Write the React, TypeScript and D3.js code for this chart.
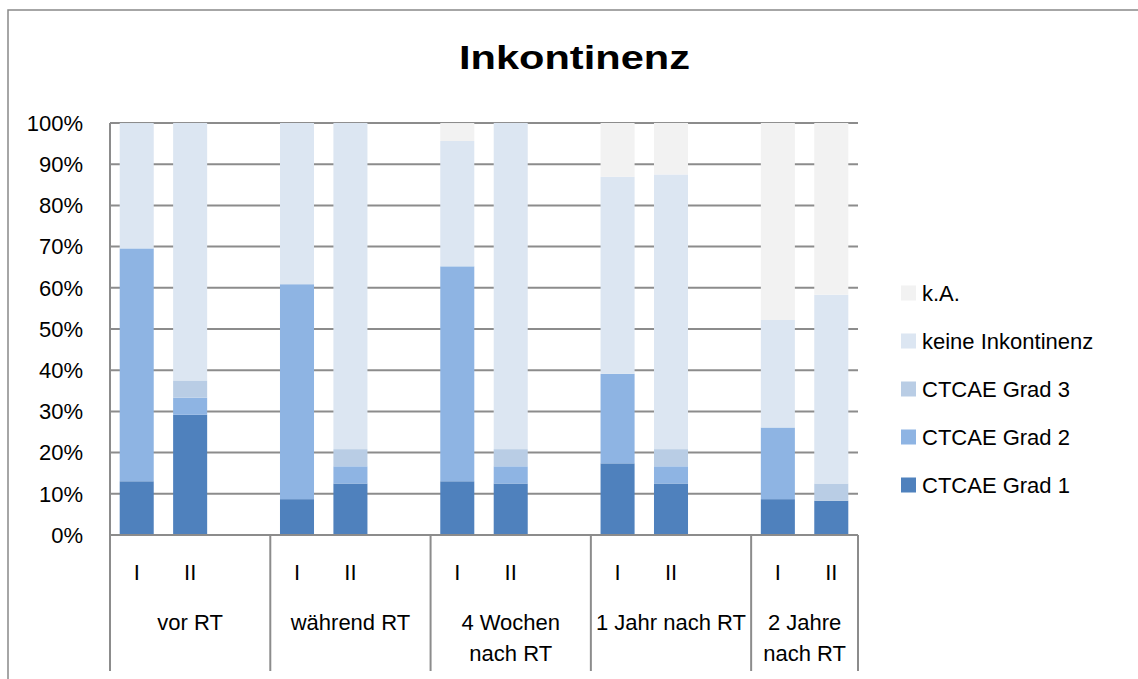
import React, { useRef, useEffect } from "react";
import * as d3 from "d3";

// categories (multi-level axis)
const groups = [["vor RT"], ["während RT"], ["4 Wochen", "nach RT"], ["1 Jahr nach RT"], ["2 Jahre", "nach RT"]];
const subLabels = ["I", "II"];

// series, bottom to top of the stack
const seriesNames = ["CTCAE Grad 1", "CTCAE Grad 2", "CTCAE Grad 3", "keine Inkontinenz", "k.A."];
const seriesColors = ["#4F81BD", "#8EB4E3", "#B9CDE5", "#DCE6F2", "#F2F2F2"];

// values in %, one per bar (group x I/II)
const grad1 = [13.04, 29.17, 8.7, 12.5, 13.04, 12.5, 17.39, 12.5, 8.7, 8.33];
const grad2 = [56.52, 4.17, 52.17, 4.17, 52.17, 4.17, 21.74, 4.17, 17.39, 0];
const grad3 = [0, 4.17, 0, 4.17, 0, 4.17, 0, 4.17, 0, 4.17];
const keine = [30.43, 62.5, 39.13, 79.17, 30.43, 79.17, 47.83, 66.67, 26.09, 45.83];
const keineAngabe = [0, 0, 0, 0, 4.35, 0, 13.04, 12.5, 47.83, 41.67];

const yTicks = [0, 10, 20, 30, 40, 50, 60, 70, 80, 90, 100];

const FONT = "'Liberation Sans', Arial, sans-serif";

const App = () => {
	const svgRef = useRef(null);

	useEffect(() => {
		const svg = d3.select(svgRef.current);
		svg.selectAll("*").remove();

		const left = 110, right = 858, top = 123, bottom = 535, axisBottom = 671;

		// slots: I, II and a gap after every group but the last
		const slots = [];
		let barIdx = 0;
		groups.forEach((g, gi) => {
			subLabels.forEach(s => {
				slots.push({ key: `${gi}-${s}`, label: s, group: gi, bar: barIdx++ });
			});
			if (gi < groups.length - 1) slots.push({ key: `${gi}-gap`, label: "", group: gi, bar: -1 });
		});

		const xScale = d3.scaleBand()
			.domain(slots.map(d => d.key))
			.range([left, right])
			.paddingInner(0.363)
			.paddingOuter(0.1815);
		const yScale = d3.scaleLinear().domain([0, 100]).range([bottom, top]);

		const step = xScale.step();
		const slotLeft = key => xScale(key) - (step - xScale.bandwidth()) / 2;

		// outer frame
		svg.append("rect")
			.attr("x", 8).attr("y", 10)
			.attr("width", 1200).attr("height", 700)
			.attr("fill", "white")
			.attr("stroke", "#898989")
			.attr("stroke-width", 1.5);

		// title
		svg.append("text")
			.attr("x", 574.5).attr("y", 69)
			.attr("text-anchor", "middle")
			.attr("font-family", FONT)
			.attr("font-weight", "bold")
			.attr("font-size", 34)
			.attr("textLength", 231)
			.attr("lengthAdjust", "spacingAndGlyphs")
			.text("Inkontinenz");

		// gridlines
		svg.append("g")
			.selectAll("line")
			.data(yTicks)
			.enter()
			.append("line")
			.attr("x1", left).attr("x2", right)
			.attr("y1", d => yScale(d)).attr("y2", d => yScale(d))
			.attr("stroke", "#8c8c8c")
			.attr("stroke-width", 2);

		// y tick labels
		svg.append("g")
			.selectAll("text")
			.data(yTicks)
			.enter()
			.append("text")
			.attr("x", 83)
			.attr("y", d => yScale(d))
			.attr("dy", "0.35em")
			.attr("text-anchor", "end")
			.attr("font-family", FONT)
			.attr("font-size", 22)
			.attr("fill", "#000")
			.text(d => `${d}%`);

		// stacked bars
		const rows = grad1.map((_, i) => ({
			s0: grad1[i], s1: grad2[i], s2: grad3[i], s3: keine[i], s4: keineAngabe[i]
		}));
		const stacked = d3.stack().keys(["s0", "s1", "s2", "s3", "s4"])(rows);
		const barSlots = slots.filter(d => d.bar >= 0);

		svg.append("g")
			.selectAll("g")
			.data(stacked)
			.enter()
			.append("g")
			.attr("fill", (d, i) => seriesColors[i])
			.selectAll("rect")
			.data(d => d)
			.enter()
			.append("rect")
			.attr("x", (d, i) => xScale(barSlots[i].key))
			.attr("y", d => yScale(d[1]))
			.attr("width", xScale.bandwidth())
			.attr("height", d => Math.max(0, yScale(d[0]) - yScale(d[1])));

		// axis lines
		svg.append("line")
			.attr("x1", left).attr("x2", left)
			.attr("y1", top).attr("y2", bottom)
			.attr("stroke", "#8c8c8c").attr("stroke-width", 2);
		svg.append("line")
			.attr("x1", left).attr("x2", right)
			.attr("y1", bottom).attr("y2", bottom)
			.attr("stroke", "#8c8c8c").attr("stroke-width", 2);

		// group separators
		const groupBounds = groups.map((g, gi) => {
			const gs = slots.filter(d => d.group === gi);
			return [slotLeft(gs[0].key), slotLeft(gs[gs.length - 1].key) + step];
		});
		const seps = [groupBounds[0][0], ...groupBounds.map(b => b[1])];
		seps[seps.length - 1] = right;
		svg.append("g")
			.selectAll("line")
			.data(seps)
			.enter()
			.append("line")
			.attr("x1", d => d).attr("x2", d => d)
			.attr("y1", bottom).attr("y2", axisBottom)
			.attr("stroke", "#8c8c8c").attr("stroke-width", 2);

		// sub labels I / II
		svg.append("g")
			.selectAll("text")
			.data(barSlots)
			.enter()
			.append("text")
			.attr("x", d => xScale(d.key) + xScale.bandwidth() / 2)
			.attr("y", 572)
			.attr("dy", "0.35em")
			.attr("text-anchor", "middle")
			.attr("font-family", FONT)
			.attr("font-size", 22)
			.text(d => d.label);

		// group labels
		const gl = svg.append("g")
			.selectAll("text")
			.data(groups)
			.enter()
			.append("text")
			.attr("x", (d, i) => (groupBounds[i][0] + Math.min(groupBounds[i][1], right)) / 2)
			.attr("y", 622)
			.attr("text-anchor", "middle")
			.attr("font-family", FONT)
			.attr("font-size", 22);
		gl.selectAll("tspan")
			.data(d => d)
			.enter()
			.append("tspan")
			.attr("x", function () { return d3.select(this.parentNode).attr("x"); })
			.attr("dy", (d, i) => (i === 0 ? "0.35em" : 31))
			.text(d => d);

		// legend (top to bottom: reverse stack order)
		const legendItems = seriesNames.map((n, i) => ({ name: n, color: seriesColors[i] })).reverse();
		const lg = svg.append("g")
			.selectAll("g")
			.data(legendItems)
			.enter()
			.append("g")
			.attr("transform", (d, i) => `translate(901, ${293 + i * 48})`);
		lg.append("rect")
			.attr("x", 0).attr("y", -7.5)
			.attr("width", 15).attr("height", 15)
			.attr("fill", d => d.color);
		lg.append("text")
			.attr("x", 21)
			.attr("y", 0)
			.attr("dy", "0.35em")
			.attr("font-family", FONT)
			.attr("font-size", 22)
			.text(d => d.name);
	}, []);

	return (
		<div>
			<svg ref={svgRef} width={1138} height={679} style={{ position: "absolute", left: 0, top: 0 }}></svg>
		</div>
	);
};

export default App;
